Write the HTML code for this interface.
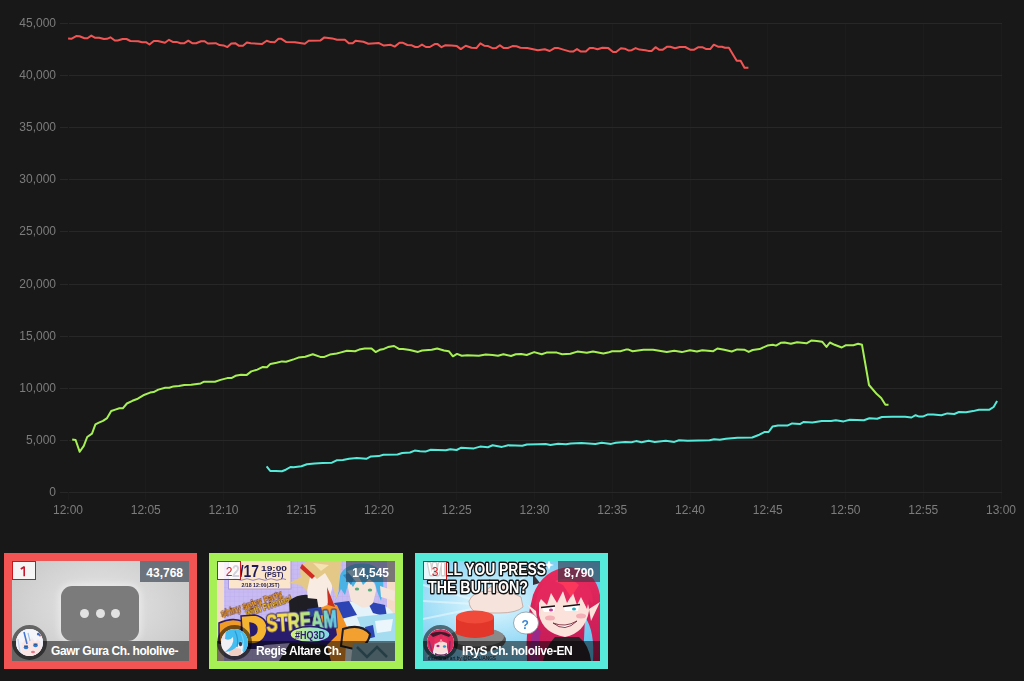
<!DOCTYPE html>
<html><head><meta charset="utf-8">
<style>
html,body{margin:0;padding:0;}
body{width:1024px;height:681px;background:#181818;position:relative;overflow:hidden;font-family:"Liberation Sans",sans-serif;}
svg text{will-change:transform;}
.card{position:absolute;top:553px;height:100px;width:177px;border:8px solid;}
.thumb{position:absolute;left:0;top:0;width:177px;height:100px;overflow:hidden;}
.thumb svg{position:absolute;left:0;top:0;}
.rank{position:absolute;left:0;top:0;width:22px;height:16px;padding-top:1px;border:1.5px solid #c8161d;background:rgba(255,255,255,0.8);color:#d01820;font-size:12px;font-weight:normal;line-height:19px;text-align:center;}
.count{position:absolute;right:0;top:0;height:18px;padding:3px 6px 0 6px;line-height:19px;background:rgba(45,55,70,0.62);color:#fff;font-size:12px;font-weight:bold;}
.bar{position:absolute;left:0;bottom:0;width:177px;height:20px;background:rgba(0,0,0,0.5);}
.name{position:absolute;left:39px;bottom:0;height:20px;line-height:21px;color:#fff;font-size:12px;font-weight:bold;white-space:nowrap;letter-spacing:-0.42px;}
.av{position:absolute;left:0;top:64px;width:27px;height:27px;border:4px solid rgba(0,0,0,0.52);border-radius:50%;overflow:hidden;}
.av svg{position:absolute;left:0;top:0;}
</style></head><body>
<svg width="1024" height="530" viewBox="0 0 1024 530" style="position:absolute;left:0;top:0">
<line x1="68.5" y1="23" x2="68.5" y2="492" stroke="#1c1c1c" stroke-width="1"/>
<line x1="68.5" y1="492" x2="68.5" y2="500" stroke="#1c1c1c" stroke-width="1"/>
<line x1="145.5" y1="23" x2="145.5" y2="492" stroke="#1c1c1c" stroke-width="1"/>
<line x1="145.5" y1="492" x2="145.5" y2="500" stroke="#1c1c1c" stroke-width="1"/>
<line x1="223.5" y1="23" x2="223.5" y2="492" stroke="#1c1c1c" stroke-width="1"/>
<line x1="223.5" y1="492" x2="223.5" y2="500" stroke="#1c1c1c" stroke-width="1"/>
<line x1="301.5" y1="23" x2="301.5" y2="492" stroke="#1c1c1c" stroke-width="1"/>
<line x1="301.5" y1="492" x2="301.5" y2="500" stroke="#1c1c1c" stroke-width="1"/>
<line x1="379.5" y1="23" x2="379.5" y2="492" stroke="#1c1c1c" stroke-width="1"/>
<line x1="379.5" y1="492" x2="379.5" y2="500" stroke="#1c1c1c" stroke-width="1"/>
<line x1="456.5" y1="23" x2="456.5" y2="492" stroke="#1c1c1c" stroke-width="1"/>
<line x1="456.5" y1="492" x2="456.5" y2="500" stroke="#1c1c1c" stroke-width="1"/>
<line x1="534.5" y1="23" x2="534.5" y2="492" stroke="#1c1c1c" stroke-width="1"/>
<line x1="534.5" y1="492" x2="534.5" y2="500" stroke="#1c1c1c" stroke-width="1"/>
<line x1="612.5" y1="23" x2="612.5" y2="492" stroke="#1c1c1c" stroke-width="1"/>
<line x1="612.5" y1="492" x2="612.5" y2="500" stroke="#1c1c1c" stroke-width="1"/>
<line x1="690.5" y1="23" x2="690.5" y2="492" stroke="#1c1c1c" stroke-width="1"/>
<line x1="690.5" y1="492" x2="690.5" y2="500" stroke="#1c1c1c" stroke-width="1"/>
<line x1="767.5" y1="23" x2="767.5" y2="492" stroke="#1c1c1c" stroke-width="1"/>
<line x1="767.5" y1="492" x2="767.5" y2="500" stroke="#1c1c1c" stroke-width="1"/>
<line x1="845.5" y1="23" x2="845.5" y2="492" stroke="#1c1c1c" stroke-width="1"/>
<line x1="845.5" y1="492" x2="845.5" y2="500" stroke="#1c1c1c" stroke-width="1"/>
<line x1="923.5" y1="23" x2="923.5" y2="492" stroke="#1c1c1c" stroke-width="1"/>
<line x1="923.5" y1="492" x2="923.5" y2="500" stroke="#1c1c1c" stroke-width="1"/>
<line x1="1001.5" y1="23" x2="1001.5" y2="492" stroke="#1c1c1c" stroke-width="1"/>
<line x1="1001.5" y1="492" x2="1001.5" y2="500" stroke="#1c1c1c" stroke-width="1"/>
<line x1="69" y1="23.5" x2="1002" y2="23.5" stroke="#272727" stroke-width="1"/>
<line x1="60" y1="23.5" x2="68" y2="23.5" stroke="#272727" stroke-width="1"/>
<text x="56" y="27" text-anchor="end" fill="#7c7c7c" font-size="12" font-family="Liberation Sans, sans-serif">45,000</text>
<line x1="69" y1="75.5" x2="1002" y2="75.5" stroke="#272727" stroke-width="1"/>
<line x1="60" y1="75.5" x2="68" y2="75.5" stroke="#272727" stroke-width="1"/>
<text x="56" y="79" text-anchor="end" fill="#7c7c7c" font-size="12" font-family="Liberation Sans, sans-serif">40,000</text>
<line x1="69" y1="127.5" x2="1002" y2="127.5" stroke="#272727" stroke-width="1"/>
<line x1="60" y1="127.5" x2="68" y2="127.5" stroke="#272727" stroke-width="1"/>
<text x="56" y="131" text-anchor="end" fill="#7c7c7c" font-size="12" font-family="Liberation Sans, sans-serif">35,000</text>
<line x1="69" y1="179.5" x2="1002" y2="179.5" stroke="#272727" stroke-width="1"/>
<line x1="60" y1="179.5" x2="68" y2="179.5" stroke="#272727" stroke-width="1"/>
<text x="56" y="183" text-anchor="end" fill="#7c7c7c" font-size="12" font-family="Liberation Sans, sans-serif">30,000</text>
<line x1="69" y1="231.5" x2="1002" y2="231.5" stroke="#272727" stroke-width="1"/>
<line x1="60" y1="231.5" x2="68" y2="231.5" stroke="#272727" stroke-width="1"/>
<text x="56" y="235" text-anchor="end" fill="#7c7c7c" font-size="12" font-family="Liberation Sans, sans-serif">25,000</text>
<line x1="69" y1="284.5" x2="1002" y2="284.5" stroke="#272727" stroke-width="1"/>
<line x1="60" y1="284.5" x2="68" y2="284.5" stroke="#272727" stroke-width="1"/>
<text x="56" y="288" text-anchor="end" fill="#7c7c7c" font-size="12" font-family="Liberation Sans, sans-serif">20,000</text>
<line x1="69" y1="336.5" x2="1002" y2="336.5" stroke="#272727" stroke-width="1"/>
<line x1="60" y1="336.5" x2="68" y2="336.5" stroke="#272727" stroke-width="1"/>
<text x="56" y="340" text-anchor="end" fill="#7c7c7c" font-size="12" font-family="Liberation Sans, sans-serif">15,000</text>
<line x1="69" y1="388.5" x2="1002" y2="388.5" stroke="#272727" stroke-width="1"/>
<line x1="60" y1="388.5" x2="68" y2="388.5" stroke="#272727" stroke-width="1"/>
<text x="56" y="392" text-anchor="end" fill="#7c7c7c" font-size="12" font-family="Liberation Sans, sans-serif">10,000</text>
<line x1="69" y1="440.5" x2="1002" y2="440.5" stroke="#272727" stroke-width="1"/>
<line x1="60" y1="440.5" x2="68" y2="440.5" stroke="#272727" stroke-width="1"/>
<text x="56" y="444" text-anchor="end" fill="#7c7c7c" font-size="12" font-family="Liberation Sans, sans-serif">5,000</text>
<line x1="69" y1="492.5" x2="1002" y2="492.5" stroke="#272727" stroke-width="1"/>
<line x1="60" y1="492.5" x2="68" y2="492.5" stroke="#272727" stroke-width="1"/>
<text x="56" y="496" text-anchor="end" fill="#7c7c7c" font-size="12" font-family="Liberation Sans, sans-serif">0</text>
<line x1="68.5" y1="23" x2="68.5" y2="492" stroke="#181818" stroke-width="1"/>
<text x="68.00" y="514" text-anchor="middle" fill="#7c7c7c" font-size="12" font-family="Liberation Sans, sans-serif">12:00</text>
<text x="145.75" y="514" text-anchor="middle" fill="#7c7c7c" font-size="12" font-family="Liberation Sans, sans-serif">12:05</text>
<text x="223.50" y="514" text-anchor="middle" fill="#7c7c7c" font-size="12" font-family="Liberation Sans, sans-serif">12:10</text>
<text x="301.25" y="514" text-anchor="middle" fill="#7c7c7c" font-size="12" font-family="Liberation Sans, sans-serif">12:15</text>
<text x="379.00" y="514" text-anchor="middle" fill="#7c7c7c" font-size="12" font-family="Liberation Sans, sans-serif">12:20</text>
<text x="456.75" y="514" text-anchor="middle" fill="#7c7c7c" font-size="12" font-family="Liberation Sans, sans-serif">12:25</text>
<text x="534.50" y="514" text-anchor="middle" fill="#7c7c7c" font-size="12" font-family="Liberation Sans, sans-serif">12:30</text>
<text x="612.25" y="514" text-anchor="middle" fill="#7c7c7c" font-size="12" font-family="Liberation Sans, sans-serif">12:35</text>
<text x="690.00" y="514" text-anchor="middle" fill="#7c7c7c" font-size="12" font-family="Liberation Sans, sans-serif">12:40</text>
<text x="767.75" y="514" text-anchor="middle" fill="#7c7c7c" font-size="12" font-family="Liberation Sans, sans-serif">12:45</text>
<text x="845.50" y="514" text-anchor="middle" fill="#7c7c7c" font-size="12" font-family="Liberation Sans, sans-serif">12:50</text>
<text x="923.25" y="514" text-anchor="middle" fill="#7c7c7c" font-size="12" font-family="Liberation Sans, sans-serif">12:55</text>
<text x="1001.00" y="514" text-anchor="middle" fill="#7c7c7c" font-size="12" font-family="Liberation Sans, sans-serif">13:00</text>
<polyline fill="none" stroke="#f25454" stroke-width="2" stroke-linejoin="round" stroke-linecap="butt" points="68.1,38.5 71.3,38.8 76.2,36.1 79.6,36.3 84.5,38.3 87.4,38.3 91.3,35.6 95.2,37.8 99.2,37.8 104,39 107,38.8 110.4,37.3 114.8,40.5 117.7,40.5 122.6,39 126.5,39 130.4,41 138.2,41.2 142.1,42.2 146,42.2 149.5,44.5 153.8,41 157.8,41 164.9,42.7 169,39.8 172.7,41.9 176.6,41.9 180.5,43.2 184.4,43.2 188.3,40.7 192.2,43.2 196.1,43.2 201,41.2 204.4,41.2 207.9,43.5 215.7,43.2 219.6,45.1 223.5,45.4 227.4,47.1 231.3,43.5 235.2,43.2 239.1,45.8 243,45.8 246.9,42.5 250.8,43.2 261.9,44.1 266.7,40.7 270.6,42.1 274.6,42.3 278.5,38.8 281.4,38.8 286.3,42.1 295,42.3 304.8,43.7 308.7,40.7 320.5,40.4 324.4,37.4 332.2,38.4 337,39.8 344.9,39.8 348.8,43.3 352.7,43.3 355.6,40.7 363.4,41.7 368.3,43.7 379,43.1 383.9,45.6 390.8,44.8 394.7,46.6 399.5,42.7 402.5,42.7 407.4,45 411.3,45.2 415.2,47 418.1,47 422,44.6 425.9,47 429.8,47 434.7,44.1 437.6,44.1 441.5,47.2 445.5,45.2 451.3,45.6 456.9,46.1 460.8,49.1 465.7,45.7 471.5,47.7 476.4,48.1 480.3,43.4 484.2,45.7 488.1,46.1 493,48.3 495.9,48.1 499.9,45.2 503.8,48.1 507.7,48.1 512.5,46.1 516.5,46.3 520.4,47.7 527.2,48.1 537.9,50.2 544.8,49.3 549.7,51 554.5,48.1 558.4,48.1 563.3,49.6 570.2,51.6 573.1,51.6 577,49.1 580.9,51.6 585.8,51.6 589.7,48.1 593.6,48.1 597.5,49.3 602.4,47.7 608.3,48.1 613.1,52 616.1,52 620.9,48.3 624.8,48.7 628.8,50.6 631.7,50.2 635.6,48.1 639.5,49.6 645.4,50.2 648.4,50.9 651.6,50.9 655.5,47.2 659.4,49.8 662.5,49.8 667.2,46.7 670.3,46.7 675,48.3 679.7,47 685.2,47 690.6,49.8 693.8,49.8 698.4,47.2 702.3,47.2 706.3,49.1 710.2,49.1 713.8,44.7 718,46.7 721.9,46.7 725,47.8 728.9,47.8 736.7,60.8 740.6,60.8 744.5,67.8 748.4,67.8"/>
<polyline fill="none" stroke="#a6f055" stroke-width="2" stroke-linejoin="round" stroke-linecap="butt" points="72.2,439.5 75.6,440 79.7,451.8 83.8,445.9 87.2,437 92,433.6 95.4,424.4 98.9,422.6 103,420.9 107.1,418.1 111.2,411 115.3,409.6 119.4,408.3 122.8,408.3 126.9,403.5 132.4,400.8 137.8,398.7 143.3,395.3 150.1,392.6 153.6,392.1 158.3,389.6 165.2,387.8 169.3,387.8 173.4,386.4 178.9,386.1 184.3,385 191.2,384.8 200.7,383.4 204.1,381.7 215,381.7 220.5,379.9 227.3,378.1 231.4,378.1 235.5,375.8 241,374.8 246.5,375.1 251.3,371.4 257.4,369.6 262.9,366.9 267,367.2 270.4,363.9 276.6,362.8 282,361.4 286.1,361.7 294.3,359.1 298.4,357.6 305.3,356.7 312.8,354.3 320.3,356.9 324.4,356.9 329.9,354.6 336.7,353.5 340.1,352.6 346.9,350.8 355.1,351.2 359.2,349.6 364.7,348.5 371.5,348.5 375.6,352.1 379.8,349.8 383.9,348.9 388,347.1 394.1,346 398.9,348.9 403,348.9 409.8,350.1 418,351.9 422.1,350.5 431.7,349.8 437.2,348.5 444,350.5 448.8,351.2 452.9,356.3 457,353.9 461.8,355.7 467.3,355.3 478.8,355.7 485.7,354.6 492.5,354.9 498,355.7 503.4,354.3 511,356 515.8,354.2 521.2,353.9 526.7,355 534.2,352.1 541.7,354.2 546.5,352.6 556.8,352.6 562.2,354.2 570.4,353.7 577.3,351.6 586.8,352.8 593,351.5 603.3,353.5 608,352.6 612.1,351.2 620.3,351.2 625.8,349.6 628.5,349.6 632.6,351.2 643.5,349.8 653.1,349.8 666.8,352.1 674.3,350.8 681.8,352.1 690,350.2 696.9,351.5 702.3,350.2 713.3,351.2 717.4,348.5 724.2,349.8 731.7,351.5 737.2,349.4 744.7,349.8 748.7,351.9 752.6,350 759.6,349.1 767.4,345.6 772.9,344.8 776,345.6 780.7,342.8 784.6,342.5 790.9,343.8 797.1,342.2 806.5,343.3 811.2,340.6 816.7,340.9 822.1,341.7 826.5,346.9 829.9,342.5 834.6,344.8 841.7,347.5 845.6,345.3 853.4,345.2 858.1,343.8 862,344.8 869,385 876.8,394.1 881.2,398 885.4,404.7 888.5,404.7"/>
<polyline fill="none" stroke="#55ead9" stroke-width="2" stroke-linejoin="round" stroke-linecap="butt" points="266.6,466.3 270.2,470.9 275.6,470.9 281.9,471.3 285.8,469.7 290.5,467 293.6,467.3 301.4,466.3 306.9,464.2 314.7,463.4 322.5,463 331.9,462.7 336.6,460.3 342.8,460 349.1,458.8 356.9,458 366.3,458.8 370.9,456.4 378.8,456.1 383.4,454.8 397.5,454.5 402.2,453 410,452.5 414.7,450.6 420,451.3 425.4,451.6 430.8,449.7 445.7,450.3 450.4,449.2 456.6,450 461.3,447.7 473.8,448.4 480.1,446.6 487.9,447.2 492.6,445.3 501.9,446.9 508.2,445.3 522.3,445.8 526.9,444.5 537.9,444.2 545.7,444.1 550.4,445 558.2,443.8 566,444.2 570.7,443.4 581.4,443.1 595.4,443.9 601.7,442.7 611.1,443.9 615.8,442.7 625.1,441.9 631.4,442.3 636.1,441.1 641.5,442.2 648.6,440.8 654.8,441.9 665.8,440.8 674.3,441.9 679,440.3 687.6,440.8 709.5,440.3 714.2,439.2 719.7,439.8 725.9,438.8 737.4,437.8 752.2,437.5 759.3,434.7 764.7,431.9 768.6,432 772.5,426.6 778,425.6 787.4,425.6 792.1,423.4 799.9,424.1 803.8,421.9 812.4,422.5 821.8,420.9 831.1,420.9 835.8,420.2 843.6,421.4 849.9,419.8 863.9,420.3 869.4,418.3 877.2,418.8 881.9,417 892.2,416.7 905.1,416.7 911.5,417.5 915.6,415.2 919.2,416.6 922.7,416.6 927.4,414.6 933.2,414.6 941.4,415.2 947.3,413.4 954.3,414 959,412 966,412.3 973.1,411.1 978.9,409.7 989.5,409.7 993.6,407 997.1,401.1"/>
</svg>
<div class="card" style="left:4px;border-color:#f25454">
  <div class="thumb" style="background:radial-gradient(ellipse 60% 70% at 50% 45%,#e6e6e6 0%,#d6d6d6 55%,#c8c8c8 100%)">
    <div style="position:absolute;left:49px;top:25px;width:78px;height:55px;border-radius:11px;background:#7b7b7b;box-shadow:0 0 6px 3px rgba(255,255,255,0.35);filter:blur(0.7px)"></div>
    <div style="position:absolute;left:68px;top:48px;width:9px;height:9px;border-radius:50%;background:#e2e2e2"></div>
    <div style="position:absolute;left:84px;top:48px;width:9px;height:9px;border-radius:50%;background:#e2e2e2"></div>
    <div style="position:absolute;left:99px;top:48px;width:9px;height:9px;border-radius:50%;background:#e2e2e2"></div>
  </div>
  <div class="rank"><svg width="22" height="17" style="position:absolute;left:0;top:0"><path d="M11.2 4.6V14.2M11.4 4.8L7.8 7" fill="none" stroke="#c81830" stroke-width="1.6" stroke-linecap="butt"/></svg></div>
  <div class="count">43,768</div>
  <div class="bar"></div>
  <div class="av"><svg width="27" height="27" viewBox="0 0 27 27">
<rect width="27" height="27" fill="#f0f2f8"/>
<path d="M0 0H27V27H0Z" fill="#eef0f6"/>
<path d="M6 12Q14 8 24 12L25 24Q16 29 6 25Z" fill="#fbe6e6"/>
<path d="M2 6Q8 0 18 1Q26 3 26 14L22 10L19 13L16 8L12 12L10 8L7 14L4 12L3 20L0 22Z" fill="#f4f5fa"/>
<path d="M8 3L11 15" stroke="#4474cc" stroke-width="1.6"/>
<path d="M12 4L14 12" stroke="#9cc0ea" stroke-width="1.2"/>
<path d="M2 10L4 24" stroke="#c4d4ee" stroke-width="1.4"/>
<ellipse cx="10" cy="18.5" rx="2.3" ry="1.7" fill="#2c78d0"/>
<ellipse cx="19.5" cy="16.5" rx="2.3" ry="1.7" fill="#2c78d0"/>
<path d="M8 17L12 17" stroke="#1a2a50" stroke-width="0.8"/><path d="M17.5 15L21.5 15" stroke="#1a2a50" stroke-width="0.8"/>
<ellipse cx="17" cy="23" rx="2" ry="1.2" fill="#e87888"/>
<circle cx="22.5" cy="5" r="1.6" fill="#3a6ac8"/><circle cx="24" cy="6.5" r="0.9" fill="#c83a4a"/>
</svg>
</div>
  <div class="name">Gawr Gura Ch. hololive-</div>
</div>
<div class="card" style="left:209px;width:178px;border-color:#a6f055">
  <div class="thumb" style="width:178px"><svg width="178" height="100" viewBox="0 0 178 100">
<defs>
<pattern id="g2" width="4.5" height="4.5" patternUnits="userSpaceOnUse"><path d="M4.5 0V4.5H0" fill="none" stroke="#b4a4e4" stroke-width="0.5"/></pattern>
<linearGradient id="st" x1="0" x2="1"><stop offset="0" stop-color="#f8cc38"/><stop offset="0.3" stop-color="#f4e458"/><stop offset="0.62" stop-color="#a8e48c"/><stop offset="1" stop-color="#5cc8ec"/></linearGradient>
<linearGradient id="hq" x1="0" x2="1"><stop offset="0" stop-color="#d4f07a"/><stop offset="1" stop-color="#7cd8ec"/></linearGradient>
</defs>
<rect width="178" height="100" fill="#c8baf2"/>
<rect width="178" height="100" fill="url(#g2)"/>
<rect x="0" y="0" width="7" height="100" fill="#f4dcc4"/>
<rect x="170" y="0" width="8" height="100" fill="#f6dcc6"/>
<rect x="11.5" y="-2" width="62.5" height="30" fill="#fbe6cc" stroke="#a898dc" stroke-width="1"/>
<text x="15" y="15.5" font-family="Liberation Sans" font-weight="bold" font-size="16" fill="#1e1a56" textLength="27" lengthAdjust="spacingAndGlyphs">2/17</text>
<text x="44" y="9.5" font-family="Liberation Sans" font-weight="bold" font-size="8" fill="#1e1a56" textLength="26" lengthAdjust="spacingAndGlyphs">19:00</text>
<text x="47.5" y="15.5" font-family="Liberation Sans" font-weight="bold" font-size="6.5" fill="#1e1a56" textLength="19" lengthAdjust="spacingAndGlyphs">(PST)</text>
<path d="M15 18.5Q18 17 21 18.5T27 18.5T33 18.5T39 18.5T45 18.5T51 18.5T57 18.5T63 18.5T69 18.5" fill="none" stroke="#7a6ac0" stroke-width="0.8"/>
<text x="24.5" y="26" font-family="Liberation Sans" font-weight="bold" font-size="5.5" fill="#1e1a56" textLength="38" lengthAdjust="spacingAndGlyphs">2/18 12:00(JST)</text>
<g transform="translate(-1 -5) rotate(-19 36 47)" font-family="Liberation Sans" font-weight="bold" font-size="9" stroke="#5a2410" stroke-width="1" paint-order="stroke">
<text x="3" y="51" fill="#f4a830" textLength="64" lengthAdjust="spacingAndGlyphs">Shiny Spicy Party</text>
<text x="27" y="57.5" fill="#f2c430" textLength="48" lengthAdjust="spacingAndGlyphs">with Friends!</text>
</g>
<!-- blue character -->
<path d="M116 100L117 44Q135 38 160 42Q175 46 178 56V100Z" fill="#e4f2fa"/>
<path d="M117 42L132 40L140 54L124 58Z" fill="#2c44b4"/>
<path d="M150 40L168 44L170 56L156 52Z" fill="#2c44b4"/>
<path d="M140 56L178 52V82L150 82Z" fill="#a6dcf0"/>
<path d="M158 60L176 58L174 70L160 72Z" fill="#eaf6fc"/>
<path d="M148 66L156 64L158 76L150 78Z" fill="#2c44b4"/>
<path d="M130 22Q134 14 146 16Q159 18 159 30L156 42Q150 48 144 46L134 40Z" fill="#f4e4da"/>
<ellipse cx="140" cy="28" rx="2.2" ry="1.5" fill="#58a878"/><ellipse cx="153" cy="29" rx="2.2" ry="1.5" fill="#58a878"/>
<path d="M118 40L122 30Q118 8 138 3Q158 0 165 12Q168 24 164 40L160 30L158 22L152 18L146 24L142 16L136 26L132 20L128 34L124 28Z" fill="#4ab2e4"/>
<path d="M126 14L140 10L134 24Z" fill="#2a8ac8"/>
<path d="M130 10L146 6L140 22Z" fill="#c4eefc"/>
<path d="M163 25L178 30L177 40L164 36Z" fill="#f4e4da"/>
<!-- blond character -->
<path d="M62 100L74 80L72 40Q84 30 100 36L120 48L122 100Z" fill="#1e1e24"/>
<path d="M99 40L120 44L130 66L128 100H114L106 70Z" fill="#f29426"/>
<path d="M126 68Q144 62 153 73Q151 86 137 88L124 85Z" fill="#f2a030" stroke="#1e1e24" stroke-width="2"/>
<path d="M89 14Q93 6 106 8Q117 12 115 28L110 44Q100 50 91 40Z" fill="#f8ece2"/>
<path d="M72 22L84 16Q80 2 96 -2L124 -2Q124 14 120 38L114 22L108 12L100 18L94 12L90 30L84 24Z" fill="#e4c888"/>
<path d="M96 2L112 4L104 10Z" fill="#f4e2b0"/>
<path d="M85 3L98 15L95 18L83 7Z" fill="#d02a22"/>
<path d="M110 26L118 46L111 44Z" fill="#c83020"/>
<path d="M80 36L100 38L102 50L84 56Z" fill="#1e1e24"/>
<path d="M90 48L104 46L106 54L92 56Z" fill="#2a44a8"/>
<!-- 3D STREAM -->
<path d="M4 70L46 60L118 62L120 74L110 84L74 82L48 84L40 88L10 88Z" fill="#2a1c6c"/>
<path d="M2 62Q14 56 25 60L24 70L14 71L22 77L11 84L2 82Z" fill="#f09a28" stroke="#2a1c6c" stroke-width="1.5"/>
<path d="M24 55L38 54Q51 57 50 69Q48 82 35 83L26 83Z M33 62L34 75Q40 74 40 68Q40 63 33 62Z" fill="#f5b430" fill-rule="evenodd" stroke="#2a1c6c" stroke-width="1.5"/>
<g transform="rotate(-4 49 73)" font-family="Liberation Sans" font-weight="bold" font-size="23"><text x="50" y="71" fill="#2a1c6c" stroke="#2a1c6c" stroke-width="3.2" stroke-linejoin="round" textLength="71" lengthAdjust="spacingAndGlyphs">STREAM</text><text x="50" y="71" fill="url(#st)" stroke="url(#st)" stroke-width="0.9" textLength="71" lengthAdjust="spacingAndGlyphs">STREAM</text></g>
<ellipse cx="93" cy="73.5" rx="20" ry="8" fill="url(#hq)" stroke="#2a1c6c" stroke-width="1.5"/>
<text x="78" y="77.5" font-family="Liberation Sans" font-weight="bold" font-size="10.5" fill="#2a1c6c" textLength="30" lengthAdjust="spacingAndGlyphs">#HQ3D</text>
<path d="M136 82H178V100H134Z" fill="#8ab2be"/>
<path d="M140 86L150 96L160 86L170 96" fill="none" stroke="#4a7a8a" stroke-width="2.5"/>
</svg>
</div>
  <div class="rank">2</div>
  <div class="count">14,545</div>
  <div class="bar" style="width:178px"></div>
  <div class="av"><svg width="27" height="27" viewBox="0 0 27 27">
<rect width="27" height="27" fill="#f2eff4"/>
<path d="M8 20Q14 18 20 20L20 27H8Z" fill="#f2cfc4"/>
<path d="M4 0H27V27H21Q24 18 20 12L17 16Q13 22 4 23Q14 16 12 8Q9 12 4 10Z" fill="#44bdf0"/>
<path d="M14 2Q18 10 16 18" stroke="#2a9ad4" stroke-width="1.2" fill="none"/>
<path d="M20 4Q24 12 22 22" stroke="#70d4f8" stroke-width="1.2" fill="none"/>
<ellipse cx="19.5" cy="15" rx="1.6" ry="2.2" fill="#3a3a4a"/>
<path d="M4 24L9 27H2Z" fill="#3454c4"/>
<path d="M0 0H5L4 10L0 12Z" fill="#e6e0ec"/>
</svg>
</div>
  <div class="name">Regis Altare Ch.</div>
</div>
<div class="card" style="left:415px;border-color:#55ead9">
  <div class="thumb"><svg width="177" height="100" viewBox="0 0 177 100">
<defs>
<radialGradient id="sky" cx="0.38" cy="0.42" r="0.75"><stop offset="0" stop-color="#e4f8fe"/><stop offset="0.45" stop-color="#a6e0f8"/><stop offset="1" stop-color="#58c0ee"/></radialGradient>
<linearGradient id="hair" x1="0" y1="0" x2="0" y2="1"><stop offset="0" stop-color="#e82a5c"/><stop offset="1" stop-color="#c01a58"/></linearGradient>
</defs>
<rect width="177" height="100" fill="url(#sky)"/>
<g stroke="#eefaff" stroke-width="2" opacity="0.55">
<path d="M68 44L0 24M68 44L0 58M68 44L4 96M68 44L36 100M68 44L120 0M68 44L0 40"/>
</g>
<path d="M46 40Q50 30 66 30Q84 28 98 36L100 46Q94 52 76 52L54 52Q46 48 46 40Z" fill="#f6e4dc" stroke="#b89890" stroke-width="0.7"/>
<path d="M62 30Q72 20 86 26L84 32Z" fill="#f6e4dc" stroke="#b89890" stroke-width="0.7"/>
<ellipse cx="54" cy="79" rx="29" ry="12.5" fill="#5a5a5a"/>
<ellipse cx="54" cy="76" rx="27" ry="9.5" fill="#8a8a8a"/>
<path d="M33 56Q52 48 71 56L71 73Q52 81 33 73Z" fill="#e2362a"/>
<ellipse cx="52" cy="56" rx="19" ry="6.5" fill="#f04a3a"/>
<path d="M110 13L117 22L110 24Z" fill="#3a3038"/>
<path d="M162 26L170 18L170 30Z" fill="#d82a30"/>
<path d="M104 100Q102 62 110 34Q120 8 146 6Q172 8 177 34V100H170Q172 70 162 56L160 100H150L140 80L126 100Z" fill="url(#hair)"/>
<path d="M106 100Q106 82 112 66L118 70Q114 86 116 100Z" fill="#9a2a8a"/>
<path d="M116 36Q124 30 146 30Q166 32 166 50Q162 72 142 76Q120 72 116 54Z" fill="#fbe2da"/>
<path d="M120 100Q124 84 132 76L156 76Q166 84 168 100Z" fill="#2c2228"/>
<path d="M112 50Q112 16 144 12Q170 14 170 44L166 38L164 48L158 36L154 44L150 32L144 42L140 30L134 42L128 32L124 44L118 38Z" fill="#e4285e"/>
<path d="M132 20Q146 14 156 24L148 36L140 24Z" fill="#ff3a5a" opacity="0.85"/>
<path d="M119 47L132 46L131 51L121 51Z" fill="#fff"/><path d="M118 46.5L132 45" stroke="#1a1016" stroke-width="1.4"/><ellipse cx="128" cy="49" rx="2" ry="1.6" fill="#c0409a"/>
<path d="M140 46L156 44L155 50L142 50Z" fill="#fff"/><path d="M140 45.5L157 43.5" stroke="#1a1016" stroke-width="1.4"/><ellipse cx="151" cy="48" rx="2" ry="1.6" fill="#30a8b8"/>
<path d="M130 62Q142 72 154 60Q142 67 130 62Z" fill="#ffffff" stroke="#7a2838" stroke-width="0.9"/>
<ellipse cx="127" cy="57" rx="5" ry="2.5" fill="#f29aa6" opacity="0.7"/>
<ellipse cx="158" cy="55" rx="5" ry="2.5" fill="#f29aa6" opacity="0.7"/>
<path d="M113 50L104 43L114 58Z" fill="#fbe4dc"/>
<path d="M166 48L177 41L168 60Z" fill="#fbe4dc"/>
<ellipse cx="103" cy="62" rx="12.5" ry="11" fill="#ffffff" stroke="#7a8a9a" stroke-width="0.7"/>
<text x="98.5" y="67.5" font-family="Liberation Sans" font-weight="bold" font-size="12" fill="#3a86d6">?</text>
<g font-family="Liberation Sans" font-weight="bold" fill="#ffffff" stroke="#141414" stroke-width="3" paint-order="stroke" stroke-linejoin="round">
<text x="5" y="14" font-size="16" textLength="118" lengthAdjust="spacingAndGlyphs">WILL YOU PRESS</text>
<text x="5" y="32" font-size="16" textLength="100" lengthAdjust="spacingAndGlyphs">THE BUTTON?</text>
</g>
<path d="M126 -1L127.5 3L131 4L127.5 5L126 9L124.5 5L121 4L124.5 3Z" fill="#ffffff"/>
<text x="5" y="99" font-family="Liberation Sans" font-size="4.5" fill="#1a1a1a" textLength="68" lengthAdjust="spacingAndGlyphs">thumbnail art by @DOOLIANGS</text>
</svg>
</div>
  <div class="rank">3</div>
  <div class="count">8,790</div>
  <div class="bar"></div>
  <div class="av"><svg width="27" height="27" viewBox="0 0 27 27">
<rect width="27" height="27" fill="#f4e6ec"/>
<path d="M0 27V8Q4 0 14 0Q25 1 27 10V27H22L19 14L8 14L5 27Z" fill="#dc2a5c"/>
<path d="M8 12Q14 9 20 12L20 22Q14 26 8 22Z" fill="#fadcd8"/>
<path d="M3 5Q14 0 24 6L22 8L14 5L6 8Z" fill="#3c1a2a"/>
<path d="M7 10L12 6L14 14L16 6L21 10L20 14L14 12L8 15Z" fill="#e8305e"/>
<ellipse cx="11" cy="17" rx="1.6" ry="1.2" fill="#b02a8a"/><ellipse cx="17.5" cy="17.5" rx="1.6" ry="1.2" fill="#2a9ad0"/>
<path d="M2 12L6 26M23 12L22 26" stroke="#8a2a6a" stroke-width="1.5"/>
<path d="M8 24Q14 27 20 24L20 27H8Z" fill="#6a2a5a"/>
</svg>
</div>
  <div class="name">IRyS Ch. hololive-EN</div>
</div>
</body></html>
